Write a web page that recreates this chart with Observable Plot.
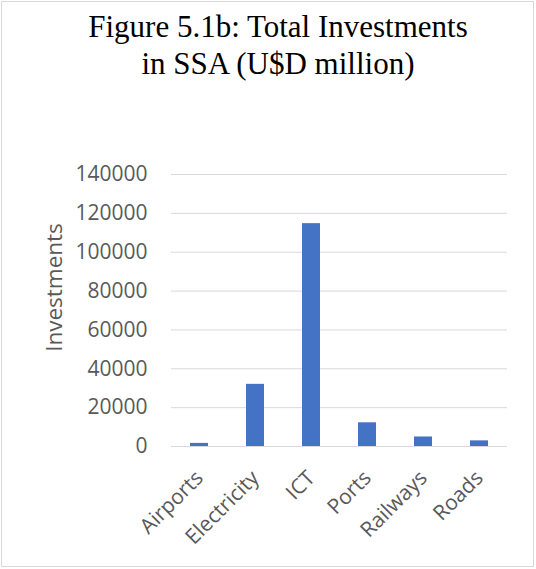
<!DOCTYPE html>
<html>
<head>
<meta charset="utf-8">
<script src="https://cdn.jsdelivr.net/npm/d3@7"></script>
<script src="https://cdn.jsdelivr.net/npm/@observablehq/plot@0.6"></script>
<style>
  html, body { margin: 0; padding: 0; background: #fff; }
  #wrap { position: relative; width: 536px; height: 569px; overflow: hidden; }
  #frame { position: absolute; left: 1px; top: 1px; width: 533px; height: 566px; border: 1px solid #d9d9d9; box-sizing: border-box; pointer-events: none; }
  #title { position: absolute; left: 0; width: 556px; top: 8px; text-align: center;
           font-family: "Liberation Serif", "Times New Roman", serif; font-size: 31px; line-height: 37px; color: #000; }
  #chart { position: absolute; left: 0; top: 0; }
</style>
</head>
<body>
<div id="wrap">
  <div id="chart"></div>
  <div id="title">Figure 5.1b: Total Investments<br>in SSA (U$D million)</div>
  <div id="frame"></div>
</div>
<script>
const categories = ["Airports", "Electricity", "ICT", "Ports", "Railways", "Roads"];
const investments = [1600, 32000, 114700, 12200, 4900, 2900];
const yTicks = [0, 20000, 40000, 60000, 80000, 100000, 120000, 140000];
const yLabel = "Investments";

const data = categories.map((c, i) => ({category: c, value: investments[i]}));

const font = "'Open Sans', sans-serif";
const chart = Plot.plot({
  width: 536,
  height: 569,
  marginTop: 174,
  marginBottom: 123,
  marginLeft: 171,
  marginRight: 29,
  style: {fontFamily: font, fontSize: "21px", color: "#595959", background: "transparent"},
  x: {domain: categories, paddingInner: 0.68, paddingOuter: 0.34},
  y: {domain: [0, 140000]},
  marks: [
    Plot.gridY(yTicks, {stroke: "#d9d9d9", strokeOpacity: 1, strokeWidth: 1}),
    Plot.barY(data, {x: "category", y: "value", fill: "#4472C4"}),
    Plot.ruleY([0], {stroke: "#d9d9d9", strokeWidth: 1}),
    Plot.axisY({ticks: yTicks, tickSize: 0, tickPadding: 24, tickFormat: d => String(d), label: null, fill: "#595959", fontSize: 21}),
    Plot.axisX({tickSize: 0, tickRotate: -45, tickPadding: 28, label: null, fill: "#595959", fontSize: 21}),
    Plot.text([yLabel], {frameAnchor: "left", text: d => d, rotate: -90, textAnchor: "middle", dx: -117, dy: -23, fontSize: 22.5, fill: "#595959"})
  ]
});
document.getElementById("chart").appendChild(chart);
</script>
</body>
</html>
